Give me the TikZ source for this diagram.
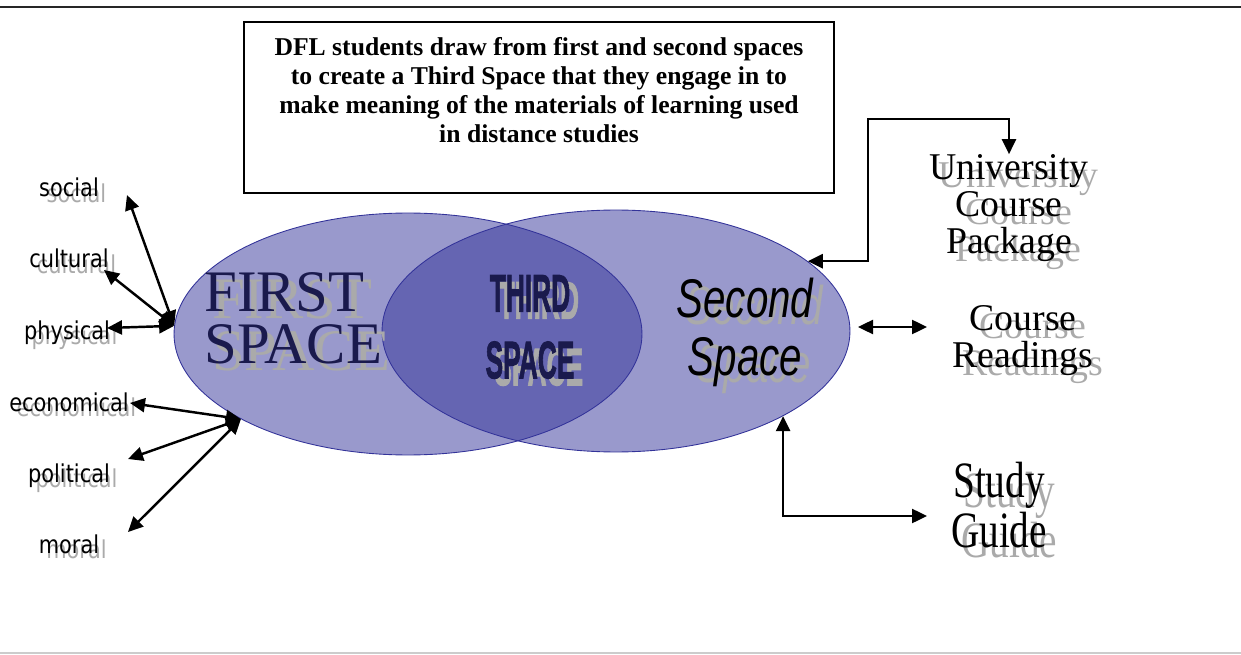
\documentclass[tikz,border=0pt]{standalone}
\usepackage{fontspec}
\setmainfont{Liberation Serif}
\newfontfamily\labelfont{DejaVu Sans}
\newfontfamily\spacefont{Liberation Sans}
\newfontfamily\heavyfont{Liberation Sans}[BoldFeatures={FakeBold=2}]
\usepackage{graphicx}
\usetikzlibrary{arrows.meta,shapes.geometric,positioning,calc}

\definecolor{venn}{RGB}{51,51,153}
\definecolor{navy}{RGB}{26,26,77}
\definecolor{shadowgray}{RGB}{170,170,170}
\definecolor{rulegray}{RGB}{204,204,204}

\newcommand{\shadowtext}[3]{\makebox[0pt][l]{\hspace*{#1}\raisebox{-#2}[0pt][0pt]{\textcolor{shadowgray}{#3}}}#3}
\newcommand{\narrow}[2]{\scalebox{#1}[1]{#2}}

\begin{document}
\begin{tikzpicture}[x=0.02cm, y=-0.02cm,
    space/.style={ellipse, fill=venn, fill opacity=0.5, draw=venn, line width=0.5pt,
      minimum width=9.36cm, minimum height=4.84cm, inner sep=0pt},
    link/.style={line width=1.4pt, >={Triangle[length=0.3cm,width=0.28cm]}, <->},
    factor/.style={font=\labelfont\fontsize{14}{14}\selectfont, inner sep=0pt, anchor=base},
    source/.style={font=\fontsize{21.5}{21}\selectfont, align=center, inner sep=0pt}]
    \useasboundingbox (0,0) rectangle (1241,655);

    % Rules
    \draw[line width=1.7pt, black!85] (0,7) -- (1241,7);
    \draw[line width=0.6pt, rulegray] (0,653) -- (1241,653);

    % Caption box
    \node (aim) [draw, line width=1.2pt, minimum width=11.8cm, minimum height=3.42cm, inner sep=0pt] at (539,107.5) {};
    \node (aimtext) [font=\bfseries\fontsize{14.6}{16.4}\selectfont, align=center, inner sep=0pt] at (539,90)
      {DFL students draw from first and second spaces\\to create a Third Space that they engage in to\\make meaning of the materials of learning used\\in distance studies};

    % Spaces
    \node (first) [space] at (408,334) {};
    \node (second) [space] at (616,331) {};

    \node (firstlbl) [anchor=west, align=left, inner sep=0pt, text=navy, font=\fontsize{33.5}{29.5}\selectfont] at (204,318)
      {\shadowtext{4.5pt}{4pt}{FIRST}\\\shadowtext{4.5pt}{4pt}{SPACE}};
    \node (thirdlbl) [align=center, inner sep=0pt, text=navy, font=\heavyfont\bfseries\fontsize{30}{38}\selectfont] at (530,327)
      {\narrow{0.5}{\shadowtext{10pt}{4pt}{THIRD}}\\\narrow{0.5}{\shadowtext{10pt}{4pt}{SPACE}}};
    \node (secondlbl) [align=center, inner sep=0pt, font=\spacefont\itshape\fontsize{31}{33}\selectfont] at (745,332)
      {\narrow{0.74}{\shadowtext{7pt}{4pt}{Second}}\\\narrow{0.74}{\shadowtext{7pt}{4pt}{Space}}};

    % Factors
    \node (social) [factor] at (69,197) {\narrow{0.85}{\shadowtext{5pt}{3pt}{social}}};
    \node (cultural) [factor] at (69,268) {\narrow{0.85}{\shadowtext{5pt}{3pt}{cultural}}};
    \node (physical) [factor] at (67,339) {\narrow{0.85}{\shadowtext{5pt}{3pt}{physical}}};
    \node (economical) [factor] at (69,411) {\narrow{0.85}{\shadowtext{5pt}{3pt}{economical}}};
    \node (political) [factor] at (69,482) {\narrow{0.85}{\shadowtext{5pt}{3pt}{political}}};
    \node (moral) [factor] at (69,553) {\narrow{0.85}{\shadowtext{5pt}{3pt}{moral}}};

    \coordinate (socialtip) at (127,195);
    \coordinate (culturaltip) at (104,270);
    \coordinate (physicaltip) at (107,328);
    \coordinate (economicaltip) at (130,403);
    \coordinate (politicaltip) at (128,459);
    \coordinate (moraltip) at (128,532);

    \draw[link] (first.178) -- (socialtip);
    \draw[link] (first.178) -- (culturaltip);
    \draw[link] (first.178) -- (physicaltip);
    \draw[link] (first.207) -- (economicaltip);
    \draw[link] (first.207) -- (politicaltip);
    \draw[link] (first.207) -- (moraltip);

    % Sources
    \node (coursepack) [source] at (1009,208)
      {\shadowtext{5.5pt}{4.5pt}{University}\\\shadowtext{5.5pt}{4.5pt}{Course}\\\shadowtext{5.5pt}{4.5pt}{Package}};
    \node (readings) [source] at (1023,341)
      {\shadowtext{5.5pt}{4.5pt}{Course}\\\shadowtext{5.5pt}{4.5pt}{Readings}};
    \node (guide) [align=center, inner sep=0pt, font=\fontsize{29}{28.4}\selectfont] at (999,505)
      {\narrow{0.77}{\shadowtext{7.5pt}{5.7pt}{Study}}\\\narrow{0.77}{\shadowtext{7.5pt}{5.7pt}{Guide}}};

    \coordinate (bend) at (868,119);
    \coordinate (readtip) at (858,327);
    \coordinate (readend) at (927,327);
    \coordinate (guidetip) at (927,516);

    \draw[link] (second.20) -| (bend) -| (coursepack.north);
    \draw[link] (readtip) -- (readend);
    \draw[link] (second.333) |- (guidetip);
\end{tikzpicture}
\end{document}
